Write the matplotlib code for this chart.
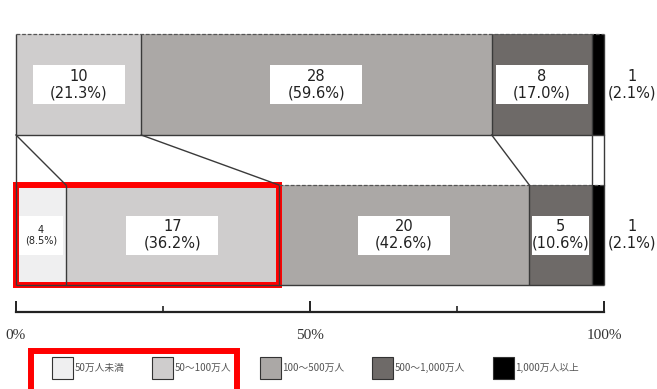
import matplotlib
matplotlib.use("Agg")
import matplotlib.pyplot as plt
from matplotlib.patches import Patch, Rectangle
import numpy as np

plt.rcParams['font.family'] = ['Noto Sans CJK JP', 'DejaVu Sans']

# data
categories = ["50万人未満", "50～100万人", "100～500万人", "500～1,000万人", "1,000万人以上"]
cat_colors = ["#efeff0", "#cfcdcd", "#aba8a6", "#6e6a68", "#000000"]

top_counts = [10, 28, 8, 1]
top_pct = [21.3, 59.6, 17.0, 2.1]
top_cats = [1, 2, 3, 4]          # index into categories / colours

bot_counts = [4, 17, 20, 5, 1]
bot_pct = [8.5, 36.2, 42.6, 10.6, 2.1]
bot_cats = [0, 1, 2, 3, 4]

highlight_n = 2                  # first two bottom segments boxed in red

# layout (pixels)
W, H = 657, 389
X0, X1 = 16, 604
PX = (X1 - X0) / 100.0
TOP_Y, TOP_H = 84.5, 101
BOT_Y, BOT_H = 235, 100
EDGE = "#3a3a3a"
LABEL_FONT = ['DejaVu Sans']

fig = plt.figure(figsize=(W / 100, H / 100), dpi=100)
ax = fig.add_axes([0, 0, 1, 1])
ax.set_xlim(-X0 / PX, (W - X0) / PX)
ax.set_ylim(H, 0)
ax.axis('off')


def draw_bar(yc, h, pct, counts, cats, dash_from=0.0):
    left = np.concatenate([[0], np.cumsum(pct)[:-1]])
    bounds = np.concatenate([[0], np.cumsum(pct)])
    ax.barh(yc, pct, left=left, height=h,
            color=[cat_colors[c] for c in cats], edgecolor='none')
    y0, y1 = yc - h / 2, yc + h / 2
    ax.vlines(bounds, y0, y1, color=EDGE, lw=1)
    ax.hlines(y1, 0, bounds[-1], color=EDGE, lw=1)
    ax.hlines(y0, dash_from, bounds[-1], color="#555555", lw=0.9,
              linestyles=(0, (3, 1.5)))
    for i, (p, n) in enumerate(zip(pct, counts)):
        cx = left[i] + p / 2
        label = f"{n}\n({p:.1f}%)"
        if i == len(pct) - 1:
            ax.text(bounds[-1] + 28 / PX, yc, label, ha='center', va='center',
                    fontsize=10.5, color="#222222", linespacing=1.1,
                    family=LABEL_FONT)
            continue
        seg_px = p * PX
        bw = min(seg_px - 6, 92) / PX
        bh = 39
        ax.add_patch(Rectangle((cx - bw / 2, yc - bh / 2), bw, bh,
                               facecolor='white', edgecolor='none'))
        fs = 10.5 if seg_px > 60 else 7
        ax.text(cx, yc, label, ha='center', va='center', fontsize=fs,
                color="#222222", linespacing=1.1, family=LABEL_FONT)
    return bounds


top_bounds = draw_bar(TOP_Y, TOP_H, top_pct, top_counts, top_cats)
bot_bounds = draw_bar(BOT_Y, BOT_H, bot_pct, bot_counts, bot_cats,
                      dash_from=float(np.sum(bot_pct[:highlight_n])))

# connector lines between bars
ya = TOP_Y + TOP_H / 2
yb = BOT_Y - BOT_H / 2
ax.plot([0, 0], [ya, yb], color=EDGE, lw=1)
for i, xt in enumerate(top_bounds):
    ax.plot([xt, bot_bounds[i + 1]], [ya, yb], color=EDGE, lw=1)

# red highlight around first two bottom segments
ax.add_patch(Rectangle((0, yb), float(np.sum(bot_pct[:highlight_n])), BOT_H,
                       facecolor='none', edgecolor='#ff0000', lw=4.3))

# percentage scale
ax2 = fig.add_axes([X0 / W, 1 - 312 / H, (X1 - X0) / W, 1e-4])
ax2.set_xlim(0, 100)
for s in ['top', 'left', 'right']:
    ax2.spines[s].set_visible(False)
ax2.spines['bottom'].set_linewidth(1.6)
ax2.spines['bottom'].set_color("#222222")
ax2.set_yticks([])
ax2.set_xticks([0, 50, 100])
ax2.set_xticklabels(["0%", "50%", "100%"], family='Liberation Serif',
                    fontsize=11, color="#333333")
ax2.set_xticks([25, 75], minor=True)
ax2.tick_params(axis='x', which='major', direction='in', length=8, width=1.4,
                pad=12, color="#222222")
ax2.tick_params(axis='x', which='minor', direction='in', length=4, width=1.2,
                color="#222222")

# legend
handles = [Patch(facecolor=c, edgecolor="#333333", lw=0.8) for c in cat_colors]
leg = fig.legend(handles, categories, loc='upper left',
                 bbox_to_anchor=(52 / W, 1 - 357 / H), ncol=5, frameon=False,
                 fontsize=7, handlelength=2.15, handleheight=3.1,
                 handletextpad=0.15, columnspacing=2.9, borderpad=0,
                 borderaxespad=0)
for t in leg.get_texts():
    t.set_color("#555555")

fig.add_artist(Rectangle((30.5 / W, 1 - 395 / H), 207 / W, 44 / H,
                         transform=fig.transFigure, facecolor='none',
                         edgecolor='#ff0000', lw=4.3, clip_on=False))

fig.savefig("out.png", dpi=100)
